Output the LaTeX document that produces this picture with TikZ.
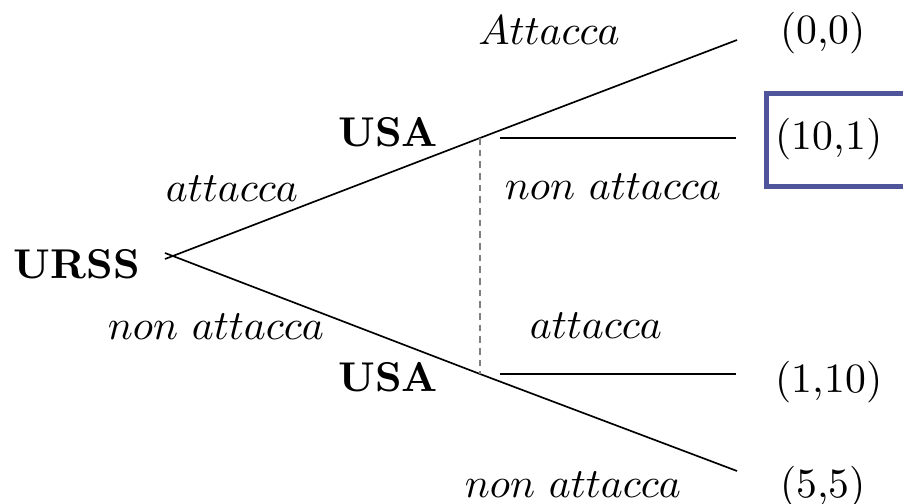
\documentclass[tikz,border=0pt]{standalone}
\usetikzlibrary{calc}
\definecolor{boxblue}{HTML}{50549A}
\begin{document}
\begin{tikzpicture}[x=0.24pt,y=-0.24pt,
  branch/.style={line width=0.4pt, draw=black},
  info/.style={draw=gray, line width=0.3pt, dash pattern=on 1.6pt off 1.2pt},
  player/.style={font=\bfseries},
  move/.style={},
  payoff/.style={},
  every node/.style={inner sep=0pt}]
  \useasboundingbox (0,0) rectangle (903,504);

  % decision nodes
  \coordinate (root) at (172,256);
  \coordinate (u1) at (480,138);
  \coordinate (u2) at (480,374);
  % tails of the root branches (they cross a little at the root)
  \coordinate (rt1) at (165,259);
  \coordinate (rt2) at (165,253);
  % terminal ends
  \coordinate (e1) at (737,40);
  \coordinate (e2s) at (500,138);
  \coordinate (e2) at (736,138);
  \coordinate (e3s) at (500,374);
  \coordinate (e3) at (736,374);
  \coordinate (e4) at (737,471);

  % branches
  \draw[branch] (rt1) -- (u1) -- (e1);
  \draw[branch] (rt2) -- (u2) -- (e4);
  \draw[branch] (e2s) -- (e2);
  \draw[branch] (e3s) -- (e3);
  % information set
  \draw[info] (u1) -- (u2);

  % players
  \node[player] (urss) at (77,264) {URSS};
  \node[player] (usa1) at (388,132) {USA};
  \node[player] (usa2) at (388,377) {USA};

  % moves
  \node[move] (m1) at (232,189) {$attacca$};
  \node[move] (m2) at (216,327) {$non\ attacca$};
  \node[move] (m3) at (549,30) {$Attacca$};
  \node[move] (m4) at (613,187) {$non\ attacca$};
  \node[move] (m5) at (596,326) {$attacca$};
  \node[move] (m6) at (573,485) {$non\ attacca$};

  % payoffs
  \node[payoff] (p1) at (823,33) {(0,0)};
  \node[payoff] (p2) at (829,139) {(10,1)};
  \node[payoff] (p3) at (829,382) {(1,10)};
  \node[payoff] (p4) at (823,487) {(5,5)};

  % highlight of the equilibrium payoff
  \draw[boxblue, line width=1.2pt] (767,94) rectangle (920,187);
\end{tikzpicture}
\end{document}
